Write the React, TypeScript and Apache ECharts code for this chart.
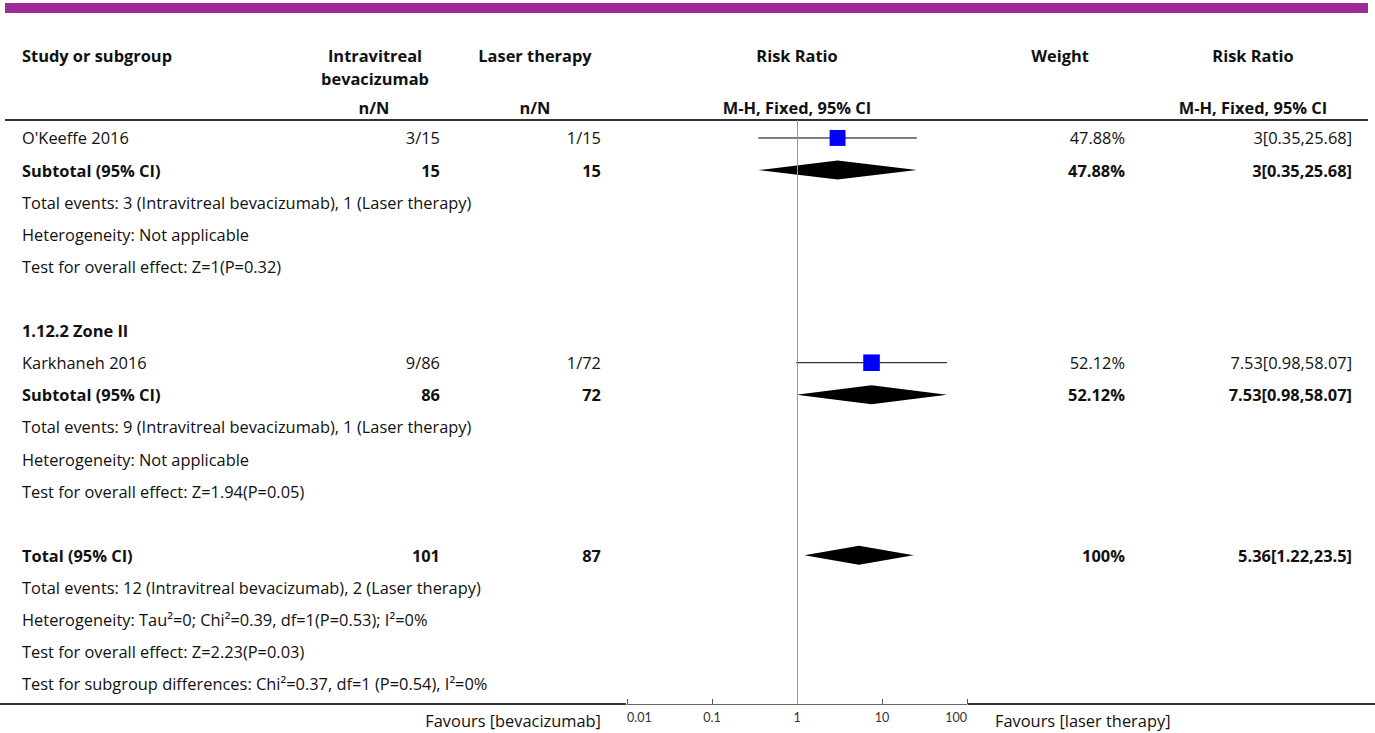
import React, { useEffect, useRef } from "react";
import * as echarts from "echarts";

// ---------- DATA ----------
const rowLabels = [
  "O'Keeffe 2016",
  "Subtotal (95% CI)",
  "Total events: 3 (Intravitreal bevacizumab), 1 (Laser therapy)",
  "Heterogeneity: Not applicable",
  "Test for overall effect: Z=1(P=0.32)",
  "",
  "1.12.2 Zone II",
  "Karkhaneh 2016",
  "Subtotal (95% CI)",
  "Total events: 9 (Intravitreal bevacizumab), 1 (Laser therapy)",
  "Heterogeneity: Not applicable",
  "Test for overall effect: Z=1.94(P=0.05)",
  "",
  "Total (95% CI)",
  "Total events: 12 (Intravitreal bevacizumab), 2 (Laser therapy)",
  "Heterogeneity: Tau\u00b2=0; Chi\u00b2=0.39, df=1(P=0.53); I\u00b2=0%",
  "Test for overall effect: Z=2.23(P=0.03)",
  "Test for subgroup differences: Chi\u00b2=0.37, df=1 (P=0.54), I\u00b2=0%",
];
const boldRows = [1, 6, 8, 13];

const bevCells = ["3/15", "15", "", "", "", "", "", "9/86", "86", "", "", "", "", "101", "", "", "", ""];
const laserCells = ["1/15", "15", "", "", "", "", "", "1/72", "72", "", "", "", "", "87", "", "", "", ""];

// individual studies
const studyRows = [0, 7];
const studyRR = [3, 7.53];
const studyLo = [0.35, 0.98];
const studyHi = [25.68, 58.07];
const studyWeight = [47.88, 52.12];

// pooled (diamonds)
const poolRows = [1, 8, 13];
const poolRR = [3, 7.53, 5.36];
const poolLo = [0.35, 0.98, 1.22];
const poolHi = [25.68, 58.07, 23.5];
const poolWeight = [47.88, 52.12, 100];

const tickLabels = ["0.01", "0.1", "1", "10", "100"];
const headerTop = ["Study or subgroup", "Intravitreal", "Laser therapy", "Risk Ratio", "Weight", "Risk Ratio"];
const headerTop2 = ["bevacizumab"];
const headerSub = ["n/N", "n/N", "M-H, Fixed, 95% CI", "M-H, Fixed, 95% CI"];
const favourLabels = ["Favours [bevacizumab]", "Favours [laser therapy]"];

// ---------- derived cells ----------
const weightCells: string[] = rowLabels.map(() => "");
const rrCells: string[] = rowLabels.map(() => "");
studyRows.forEach((r, i) => {
  weightCells[r] = `${studyWeight[i]}%`;
  rrCells[r] = `${studyRR[i]}[${studyLo[i]},${studyHi[i]}]`;
});
poolRows.forEach((r, i) => {
  weightCells[r] = `${poolWeight[i]}%`;
  rrCells[r] = `${poolRR[i]}[${poolLo[i]},${poolHi[i]}]`;
});

// ---------- layout ----------
const W = 1375;
const H = 733;
const MAIN_FONT = "'Open Sans', 'Noto Sans', sans-serif";
const NUM_FONT = "'Open Sans', 'Noto Sans', sans-serif";
const TICK_FONT = "Lato, 'Open Sans', sans-serif";
const FS = 16.4;
const GRID_TOP = 120;
const GRID_H = 584;
const Y_MIN = -0.56;
const Y_MAX = 17.63;
const TEXT_COLOR = "#111";

const columns = [
  { cells: rowLabels, x: 22, align: "left", font: MAIN_FONT, size: FS },
  { cells: bevCells, x: 440, align: "right", font: MAIN_FONT, size: FS },
  { cells: laserCells, x: 601, align: "right", font: MAIN_FONT, size: FS },
  { cells: weightCells, x: 1125, align: "right", font: NUM_FONT, size: FS },
  { cells: rrCells, x: 1352, align: "right", font: NUM_FONT, size: FS },
];

function buildOption() {
  const tableSeries = columns.map((col) => {
    const rows: number[] = [];
    col.cells.forEach((c, r) => {
      if (c) rows.push(r);
    });
    return {
      type: "custom",
      xAxisIndex: 0,
      yAxisIndex: 0,
      clip: false,
      silent: true,
      data: rows.map((r) => [col.x, r]),
      renderItem: (params: any, api: any) => {
        const r = rows[params.dataIndex];
        const p = api.coord([api.value(0), api.value(1)]);
        const bold = boldRows.includes(r);
        return {
          type: "text",
          x: p[0],
          y: p[1],
          style: {
            text: col.cells[r],
            fill: TEXT_COLOR,
            font: `${bold ? "bold " : ""}${col.size}px ${col.font}`,
            align: col.align,
            verticalAlign: "middle",
          },
        };
      },
    };
  });

  const studySeries = {
    type: "custom",
    xAxisIndex: 1,
    yAxisIndex: 1,
    clip: false,
    silent: true,
    data: studyRows.map((r, i) => [studyRR[i], r]),
    renderItem: (params: any, api: any) => {
      const i = params.dataIndex;
      const row = studyRows[i];
      const p = api.coord([studyRR[i], row]);
      const l = api.coord([studyLo[i], row]);
      const h = api.coord([studyHi[i], row]);
      const s = 23 * Math.sqrt(studyWeight[i] / 100);
      return {
        type: "group",
        children: [
          {
            type: "line",
            shape: { x1: l[0], y1: l[1], x2: h[0], y2: h[1] },
            style: { stroke: "#000", lineWidth: 1 },
          },
          {
            type: "rect",
            shape: { x: p[0] - s / 2, y: p[1] - s / 2, width: s, height: s },
            style: { fill: "#0000ff" },
          },
          {
            type: "line",
            shape: { x1: p[0], y1: p[1] - 4, x2: p[0], y2: p[1] + 4 },
            style: { stroke: "#000", lineWidth: 1 },
          },
        ],
      };
    },
    markLine: {
      silent: true,
      symbol: "none",
      label: { show: false },
      lineStyle: { color: "#999", width: 1, type: "solid" },
      data: [{ xAxis: 1 }],
    },
  };

  const poolSeries = {
    type: "custom",
    xAxisIndex: 1,
    yAxisIndex: 1,
    clip: false,
    silent: true,
    data: poolRows.map((r, i) => [poolRR[i], r]),
    renderItem: (params: any, api: any) => {
      const i = params.dataIndex;
      const row = poolRows[i];
      const p = api.coord([poolRR[i], row]);
      const l = api.coord([poolLo[i], row]);
      const h = api.coord([poolHi[i], row]);
      const hh = 9.5;
      return {
        type: "polygon",
        shape: {
          points: [
            [l[0], p[1]],
            [p[0], p[1] - hh],
            [h[0], p[1]],
            [p[0], p[1] + hh],
          ],
        },
        style: { fill: "#000" },
      };
    },
  };

  const hText = (text: string, x: number, y: number, align: string, bold = true, font = MAIN_FONT, size = FS) => ({
    type: "text",
    x,
    y,
    silent: true,
    style: {
      text,
      fill: TEXT_COLOR,
      font: `${bold ? "bold " : ""}${size}px ${font}`,
      align,
      verticalAlign: "middle",
    },
  });

  const graphics: any[] = [
    { type: "rect", silent: true, shape: { x: 5, y: 3, width: 1363, height: 10 }, style: { fill: "#9c2a97" } },
    { type: "line", silent: true, shape: { x1: 5, y1: 120, x2: 1368, y2: 120 }, style: { stroke: "#333", lineWidth: 2 } },
    { type: "line", silent: true, shape: { x1: 0, y1: 704, x2: 626, y2: 704 }, style: { stroke: "#333", lineWidth: 2 } },
    { type: "line", silent: true, shape: { x1: 968, y1: 704, x2: 1375, y2: 704 }, style: { stroke: "#333", lineWidth: 2 } },
    hText(headerTop[0], 22, 55, "left"),
    hText(headerTop[1], 375, 55, "center"),
    hText(headerTop2[0], 375, 78, "center"),
    hText(headerTop[2], 535, 55, "center"),
    hText(headerTop[3], 797, 55, "center"),
    hText(headerTop[4], 1060, 55, "center"),
    hText(headerTop[5], 1253, 55, "center"),
    hText(headerSub[0], 374, 107, "center"),
    hText(headerSub[1], 535, 107, "center"),
    hText(headerSub[2], 797, 107, "center"),
    hText(headerSub[3], 1253, 107, "center"),
    hText(favourLabels[0], 601, 720, "right", false),
    hText(favourLabels[1], 995, 720, "left", false),
  ];

  return {
    animation: false,
    backgroundColor: "#fff",
    grid: [
      { left: 0, top: GRID_TOP, width: W, height: GRID_H },
      { left: 627, top: GRID_TOP, width: 340, height: GRID_H },
    ],
    xAxis: [
      { type: "value", gridIndex: 0, min: 0, max: W, show: false },
      {
        type: "log",
        gridIndex: 1,
        logBase: 10,
        min: 0.01,
        max: 100,
        position: "bottom",
        axisLine: { show: true, onZero: false, lineStyle: { color: "#666", width: 1 } },
        axisTick: { show: true, inside: true, length: 5, lineStyle: { color: "#555" } },
        axisLabel: {
          show: true,
          margin: 7,
          fontSize: 12.5,
          fontFamily: TICK_FONT,
          color: "#333",
          alignMinLabel: "left",
          alignMaxLabel: "right",
          formatter: (v: number) => tickLabels[Math.round(Math.log10(v)) + 2] ?? "",
        },
        splitLine: { show: false },
        minorTick: { show: false },
      },
    ],
    yAxis: [
      { type: "value", gridIndex: 0, min: Y_MIN, max: Y_MAX, inverse: true, show: false },
      { type: "value", gridIndex: 1, min: Y_MIN, max: Y_MAX, inverse: true, show: false },
    ],
    graphic: graphics,
    series: [...tableSeries, studySeries, poolSeries],
  };
}

export default function App() {
  const ref = useRef<HTMLDivElement>(null);
  useEffect(() => {
    document.body.style.margin = "0";
    if (!ref.current) return;
    const chart = echarts.init(ref.current, null, { renderer: "svg" });
    chart.setOption(buildOption() as any);
    return () => chart.dispose();
  }, []);
  return <div ref={ref} style={{ width: W, height: H, background: "#fff" }} />;
}
